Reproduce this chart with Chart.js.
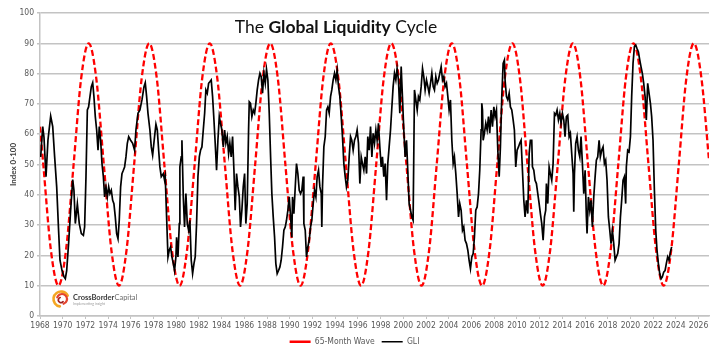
<!DOCTYPE html>
<html>
<head>
<meta charset="utf-8">
<script src="https://cdn.jsdelivr.net/npm/chart.js@4.4.0/dist/chart.umd.min.js"></script>
<style>
  html, body { margin: 0; padding: 0; background: #fff; }
</style>
</head>
<body>
<canvas id="gliChart" width="724" height="351"></canvas>
<script>
// x axis labels (every 2 years) and y axis ticks
const yearTicks = [1968, 1970, 1972, 1974, 1976, 1978, 1980, 1982, 1984, 1986, 1988, 1990, 1992, 1994, 1996,
    1998, 2000, 2002, 2004, 2006, 2008, 2010, 2012, 2014, 2016, 2018, 2020, 2022, 2024, 2026];
const indexTicks = [0, 10, 20, 30, 40, 50, 60, 70, 80, 90, 100];

const waveLabel = '65-Month Wave';
const gliLabel = 'GLI';

// 65-month wave: [year, index]
const waveSeries = [
    [1968.00, 62.5], [1968.29, 50], [1968.96, 21.7], [1969.63, 10], [1970.29, 21.7], [1970.96, 50], [1971.62, 78.3],
    [1972.29, 90], [1972.96, 78.3], [1973.62, 50], [1974.29, 21.7], [1974.96, 10], [1975.62, 21.7], [1976.29, 50],
    [1976.95, 78.3], [1977.62, 90], [1978.29, 78.3], [1978.95, 50], [1979.62, 21.7], [1980.29, 10], [1980.95, 21.7],
    [1981.62, 50], [1982.28, 78.3], [1982.95, 90], [1983.62, 78.3], [1984.28, 50], [1984.95, 21.7], [1985.62, 10],
    [1986.28, 21.7], [1986.95, 50], [1987.61, 78.3], [1988.28, 90], [1988.95, 78.3], [1989.61, 50], [1990.28, 21.7],
    [1990.95, 10], [1991.61, 21.7], [1992.28, 50], [1992.94, 78.3], [1993.61, 90], [1994.28, 78.3], [1994.94, 50],
    [1995.61, 21.7], [1996.28, 10], [1996.94, 21.7], [1997.61, 50], [1998.27, 78.3], [1998.94, 90], [1999.61, 78.3],
    [2000.27, 50], [2000.94, 21.7], [2001.61, 10], [2002.27, 21.7], [2002.94, 50], [2003.60, 78.3], [2004.27, 90],
    [2004.94, 78.3], [2005.60, 50], [2006.27, 21.7], [2006.94, 10], [2007.60, 21.7], [2008.27, 50], [2008.93, 78.3],
    [2009.60, 90], [2010.27, 78.3], [2010.93, 50], [2011.60, 21.7], [2012.27, 10], [2012.93, 21.7], [2013.60, 50],
    [2014.26, 78.3], [2014.93, 90], [2015.60, 78.3], [2016.26, 50], [2016.93, 21.7], [2017.60, 10], [2018.26, 21.7],
    [2018.93, 50], [2019.59, 78.3], [2020.26, 90], [2020.93, 78.3], [2021.59, 50], [2022.26, 21.7], [2022.93, 10],
    [2023.59, 21.7], [2024.26, 50], [2024.92, 78.3], [2025.59, 90], [2026.26, 78.3], [2026.92, 51.5]
];

// GLI index: [year, index]
const gliSeries = [
    [1968.06, 52.5], [1968.24, 62.5], [1968.35, 59], [1968.53, 46], [1968.70, 58], [1968.94, 66], [1969.12, 62.5],
    [1969.29, 52.5], [1969.47, 42.6], [1969.64, 28], [1969.76, 18.4], [1969.94, 15], [1970.11, 13], [1970.23, 12.3],
    [1970.35, 15], [1970.52, 24], [1970.70, 35], [1970.88, 45], [1970.99, 41.5], [1971.11, 30.5], [1971.29, 37],
    [1971.46, 30.5], [1971.64, 27.2], [1971.82, 26.6], [1971.93, 29.4], [1972.05, 46], [1972.17, 68], [1972.28, 69],
    [1972.40, 72.4], [1972.52, 75.7], [1972.64, 77], [1972.75, 72.4], [1972.87, 65.8], [1972.99, 61.4], [1973.11, 54.7],
    [1973.22, 62.5], [1973.34, 58], [1973.46, 50.3], [1973.58, 46], [1973.69, 39.3], [1973.81, 42.6], [1973.93, 39.3],
    [1974.05, 42.6], [1974.16, 40.4], [1974.28, 41.5], [1974.40, 38.2], [1974.51, 37.1], [1974.63, 32.7], [1974.75, 27.2],
    [1974.87, 25.5], [1974.98, 31.6], [1975.10, 42.6], [1975.22, 47], [1975.34, 48.1], [1975.45, 49.2], [1975.57, 52.5],
    [1975.69, 57], [1975.81, 59.2], [1975.98, 58], [1976.16, 57], [1976.33, 54.7], [1976.45, 61.4], [1976.63, 66.9],
    [1976.80, 68], [1976.98, 71.3], [1977.16, 75.7], [1977.27, 77], [1977.39, 72.4], [1977.51, 66.9], [1977.68, 61.4],
    [1977.80, 55.8], [1977.92, 53.1], [1978.09, 59.2], [1978.21, 63.3], [1978.33, 61.4], [1978.45, 54.7], [1978.56, 49.2],
    [1978.68, 46], [1978.86, 47], [1978.97, 44.8],
    [1979.03, 46], [1979.15, 32.7], [1979.27, 19.5], [1979.38, 21.7], [1979.50, 22.8], [1979.62, 19.5], [1979.74, 17.3],
    [1979.85, 15], [1979.97, 19.5], [1980.03, 26], [1980.15, 19.5], [1980.27, 30.5], [1980.32, 49.2], [1980.44, 52.5],
    [1980.50, 58], [1980.62, 39.3], [1980.73, 29.4], [1980.85, 40.4], [1980.97, 30.5], [1981.09, 28.3], [1981.20, 31.6],
    [1981.32, 18.4], [1981.44, 14], [1981.56, 17.3], [1981.67, 19.5], [1981.79, 30.5], [1981.91, 46], [1982.03, 52.5],
    [1982.14, 54.7], [1982.26, 55.8], [1982.38, 61.4], [1982.50, 66.9], [1982.61, 74.6], [1982.73, 73.5], [1982.85, 76.8],
    [1982.96, 77.3], [1983.08, 77.9], [1983.20, 72.4], [1983.32, 64.7], [1983.43, 57], [1983.55, 48.1], [1983.67, 58],
    [1983.79, 65.8], [1983.90, 63.6], [1984.02, 61.4], [1984.14, 55.8], [1984.26, 61.4], [1984.37, 57], [1984.49, 59.2],
    [1984.61, 53.6], [1984.72, 57], [1984.84, 52.5], [1984.96, 59.2], [1985.08, 48.1], [1985.19, 34.9], [1985.31, 47],
    [1985.43, 42.6], [1985.55, 39.3], [1985.66, 29.4], [1985.78, 34.9], [1985.90, 42.6], [1986.02, 47], [1986.13, 30.5],
    [1986.25, 37.1], [1986.37, 61.4], [1986.43, 70.7], [1986.54, 70.2], [1986.66, 65.8], [1986.78, 68], [1986.90, 66.9],
    [1987.01, 70.2], [1987.13, 74.6], [1987.25, 77.9], [1987.37, 80.1], [1987.48, 79], [1987.60, 73.5], [1987.72, 80.1],
    [1987.84, 76.8], [1987.95, 81.4], [1988.07, 77.9], [1988.19, 66.9], [1988.31, 52.5], [1988.42, 40.4], [1988.54, 32.7],
    [1988.66, 26], [1988.77, 17.3], [1988.89, 14], [1989.01, 15], [1989.13, 16.2], [1989.24, 18.4], [1989.36, 22.8],
    [1989.48, 28.3], [1989.60, 29.4], [1989.71, 31.6], [1989.83, 34.9], [1989.95, 39.3], [1990.07, 32.7], [1990.18, 26],
    [1990.24, 39.3], [1990.36, 33.8], [1990.48, 42.6], [1990.59, 50.3], [1990.71, 47], [1990.83, 41.5], [1990.95, 40.4],
    [1991.06, 41.5], [1991.18, 46], [1991.24, 30.5], [1991.36, 28.3], [1991.47, 19.5], [1991.59, 22.8], [1991.71, 25],
    [1991.83, 29.4], [1991.94, 31.6], [1992.06, 37.1], [1992.18, 41.5], [1992.30, 39.3], [1992.41, 46], [1992.53, 48.1],
    [1992.65, 42.6], [1992.77, 40.4], [1992.82, 29.4], [1992.88, 42.6], [1993.00, 55.8], [1993.12, 59.2], [1993.24, 68],
    [1993.35, 69], [1993.47, 66.9], [1993.59, 72.4], [1993.70, 74.6], [1993.82, 77.9], [1993.94, 80.1], [1994.06, 77.9],
    [1994.17, 81.2], [1994.29, 75.7], [1994.41, 72.4], [1994.53, 65.8], [1994.64, 59.2], [1994.76, 50.3], [1994.88, 46],
    [1994.99, 42.6], [1995.11, 44.8], [1995.23, 52.5], [1995.35, 59.2], [1995.46, 58], [1995.58, 54.7], [1995.70, 58],
    [1995.82, 59.2], [1995.93, 61.4], [1996.05, 57], [1996.17, 43.7], [1996.29, 52.5], [1996.40, 50.3], [1996.52, 48.1],
    [1996.64, 52.5], [1996.76, 47], [1996.87, 59.2], [1996.99, 54.7], [1997.11, 62.5], [1997.23, 52.5], [1997.34, 60.3],
    [1997.46, 57], [1997.58, 61.4], [1997.69, 58], [1997.81, 63.6], [1997.93, 55.8], [1998.05, 49.2], [1998.16, 52.5],
    [1998.28, 46], [1998.40, 50.3], [1998.52, 38.2], [1998.63, 50.3], [1998.75, 55.8], [1998.87, 61.4], [1998.99, 69],
    [1999.10, 75.7], [1999.22, 80.1], [1999.34, 77.9], [1999.45, 81.7], [1999.57, 77.9], [1999.69, 66.9], [1999.81, 82.3],
    [1999.92, 72.4], [2000.04, 61.4], [2000.16, 52.5], [2000.28, 58], [2000.39, 48.1], [2000.51, 37.1], [2000.63, 34.9],
    [2000.75, 32.7], [2000.86, 31.6], [2000.98, 74.6],
    [2001.22, 68], [2001.33, 72.4], [2001.45, 71.3], [2001.57, 75.7], [2001.69, 81.7], [2001.80, 79], [2001.92, 74.6],
    [2002.04, 77.9], [2002.16, 75.7], [2002.27, 73.5], [2002.39, 76.8], [2002.51, 80.1], [2002.63, 75.7], [2002.74, 74.6],
    [2002.86, 79], [2002.98, 76.8], [2003.09, 77.9], [2003.21, 80.1], [2003.33, 82.3], [2003.45, 77.9], [2003.56, 79],
    [2003.68, 75.7], [2003.80, 76.8], [2003.92, 72.4], [2004.03, 68], [2004.15, 71.3], [2004.27, 58], [2004.39, 50.3],
    [2004.50, 52.5], [2004.62, 47], [2004.74, 40.4], [2004.86, 32.7], [2004.97, 37.1], [2005.09, 34.9], [2005.21, 28.3],
    [2005.32, 29.4], [2005.44, 25], [2005.56, 23.9], [2005.68, 21.7], [2005.79, 18.4], [2005.91, 15.6], [2006.03, 19.5],
    [2006.15, 20.6], [2006.26, 26], [2006.38, 34.9], [2006.50, 36], [2006.62, 40.4], [2006.73, 48.1], [2006.85, 61.4],
    [2006.91, 70.2], [2006.97, 68], [2007.03, 58], [2007.14, 60.3], [2007.26, 63.6], [2007.38, 61.4], [2007.50, 65.8],
    [2007.61, 60.3], [2007.73, 68], [2007.85, 62.5], [2007.97, 69], [2008.08, 65.8], [2008.20, 68], [2008.32, 54.7],
    [2008.44, 46], [2008.55, 55.8], [2008.67, 72.4], [2008.79, 83.4], [2008.90, 84.5], [2008.96, 77.9], [2009.08, 72.4],
    [2009.20, 71.3], [2009.32, 73.5], [2009.43, 69], [2009.55, 68], [2009.67, 64.7], [2009.78, 61.4], [2009.90, 49.2],
    [2010.02, 54.7], [2010.14, 55.8], [2010.25, 57], [2010.37, 58], [2010.49, 48.1], [2010.61, 38.2], [2010.72, 32.7],
    [2010.84, 38.2], [2010.96, 33.8], [2011.08, 53.6], [2011.19, 58], [2011.31, 58], [2011.37, 49.2], [2011.49, 48.1],
    [2011.60, 44.8], [2011.72, 43.7], [2011.84, 40.4], [2011.96, 37.1], [2012.07, 33.8], [2012.19, 30.5], [2012.31, 25],
    [2012.43, 32.7], [2012.54, 34.9], [2012.60, 43.7], [2012.72, 37.1], [2012.84, 49.2], [2012.95, 47], [2013.07, 44.8],
    [2013.19, 50.3], [2013.31, 66.9], [2013.42, 66.3], [2013.54, 68], [2013.66, 64.7], [2013.78, 66.9], [2013.89, 63.6],
    [2014.01, 66.9], [2014.13, 64.7], [2014.24, 59.2], [2014.36, 65.8], [2014.48, 66.3], [2014.60, 59.2], [2014.71, 60.3],
    [2014.83, 53.6], [2014.95, 47], [2015.01, 34.4], [2015.07, 47], [2015.18, 57], [2015.30, 59.2], [2015.42, 54.7],
    [2015.54, 52.5], [2015.65, 59.2], [2015.77, 50.3], [2015.89, 40.4], [2016.01, 48.1], [2016.12, 32.7], [2016.18, 27.2],
    [2016.30, 39.3], [2016.42, 34.9], [2016.53, 38.2], [2016.65, 29.4], [2016.77, 39.3], [2016.89, 46], [2017.00, 51.4],
    [2017.12, 52.5], [2017.24, 58], [2017.35, 52.5], [2017.47, 54.7], [2017.59, 55.8], [2017.71, 50.3], [2017.82, 51.4],
    [2017.94, 44.8], [2018.06, 32.7], [2018.18, 28.3], [2018.29, 23.9], [2018.41, 28.3], [2018.53, 23.9], [2018.65, 18.4],
    [2018.76, 19.5], [2018.88, 20.6], [2019.00, 23.9], [2019.12, 32.7], [2019.23, 38.2], [2019.35, 44.8], [2019.47, 46],
    [2019.58, 37.1], [2019.64, 49.2], [2019.76, 54.7], [2019.88, 54.2], [2020.00, 59.2], [2020.11, 72.4], [2020.23, 83.4],
    [2020.35, 88.9], [2020.47, 89.4], [2020.58, 88.3], [2020.70, 87.2], [2020.82, 84.5], [2020.93, 82.3], [2021.05, 80.1],
    [2021.17, 76.8], [2021.29, 72.4], [2021.40, 64.7], [2021.52, 76.8], [2021.64, 73.5], [2021.76, 70.2], [2021.87, 65.8],
    [2021.99, 58], [2022.11, 41.5], [2022.23, 28.3], [2022.34, 21.7], [2022.46, 17.3], [2022.58, 14], [2022.70, 12.3],
    [2022.81, 12.9], [2022.93, 14.5], [2023.05, 15], [2023.16, 17.3], [2023.28, 19.5], [2023.40, 18.4], [2023.52, 21.1],
    [2023.63, 22.8]
];

const smallFont = { family: "'Liberation Sans Narrow', 'DejaVu Sans Condensed', Lato, sans-serif", size: 8.5 };
const gridGrey = '#c3c3c3';
const labelGrey = '#595959';

// title with a bold middle part, drawn inside the plot
const titlePlugin = {
    id: 'mixedTitle',
    afterDraw(chart) {
        const ctx = chart.ctx;
        const parts = [['The ', '400'], ['Global Liquidity', '700'], [' Cycle', '400']];
        const size = 17.5;
        ctx.save();
        let total = 0;
        const widths = parts.map(p => {
            ctx.font = p[1] + ' ' + size + 'px Lato, sans-serif';
            const w = ctx.measureText(p[0]).width;
            total += w;
            return w;
        });
        let x = 336 - total / 2;
        ctx.fillStyle = '#111';
        ctx.textBaseline = 'alphabetic';
        parts.forEach((p, i) => {
            ctx.font = p[1] + ' ' + size + 'px Lato, sans-serif';
            ctx.fillText(p[0], x, 33);
            x += widths[i];
        });
        ctx.restore();
    }
};

// CrossBorder Capital logo in the lower left corner
const logoPlugin = {
    id: 'logo',
    afterDraw(chart) {
        const ctx = chart.ctx;
        const cx = 61, cy = 299;
        ctx.save();
        ctx.lineCap = 'round';
        ctx.lineWidth = 2.6;
        ctx.strokeStyle = '#f4a623';
        ctx.beginPath();
        ctx.arc(cx, cy, 7.5, Math.PI * 0.55, Math.PI * 1.85);
        ctx.stroke();
        ctx.strokeStyle = '#e5452f';
        ctx.lineWidth = 2.2;
        ctx.beginPath();
        ctx.arc(cx + 1, cy, 5, Math.PI * 1.1, Math.PI * 2.4);
        ctx.stroke();
        ctx.strokeStyle = '#a0201f';
        ctx.lineWidth = 1.6;
        ctx.beginPath();
        ctx.arc(cx, cy + 1, 2.6, Math.PI * 0.2, Math.PI * 1.4);
        ctx.stroke();

        ctx.textBaseline = 'alphabetic';
        ctx.font = "700 7.5px 'Liberation Sans Narrow', Lato, sans-serif";
        ctx.fillStyle = '#3b3b3b';
        ctx.fillText('CrossBorder', 73, 300);
        const w = ctx.measureText('CrossBorder').width;
        ctx.font = "400 7.5px 'Liberation Sans Narrow', Lato, sans-serif";
        ctx.fillStyle = '#6b6b6b';
        ctx.fillText('Capital', 73 + w, 300);
        ctx.font = "400 3.5px Lato, sans-serif";
        ctx.fillStyle = '#9a9a9a';
        ctx.fillText('Implementing insight', 73, 305);
        ctx.restore();
    }
};

new Chart(document.getElementById('gliChart'), {
    type: 'line',
    data: {
        datasets: [{
            label: waveLabel,
            data: waveSeries.map(p => ({ x: p[0], y: p[1] })),
            borderColor: '#ff0000',
            backgroundColor: '#ff0000',
            borderWidth: 2.3,
            borderDash: [6, 3],
            pointRadius: 0,
            cubicInterpolationMode: 'monotone',
            fill: false,
            order: 1
        }, {
            label: gliLabel,
            data: gliSeries.map(p => ({ x: p[0], y: p[1] })),
            borderColor: '#000000',
            backgroundColor: '#000000',
            borderWidth: 1.7,
            pointRadius: 0,
            tension: 0,
            fill: false,
            order: 0
        }]
    },
    options: {
        responsive: false,
        animation: false,
        devicePixelRatio: 1,
        layout: { padding: { top: 13, right: 15, bottom: -5, left: 0 } },
        plugins: {
            legend: {
                position: 'bottom',
                labels: {
                    usePointStyle: true,
                    pointStyle: 'line',
                    pointStyleWidth: 21,
                    padding: 7,
                    color: labelGrey,
                    font: smallFont,
                    sort: (a, b) => a.datasetIndex - b.datasetIndex
                }
            },
            tooltip: { enabled: false }
        },
        scales: {
            x: {
                type: 'linear',
                min: 1968,
                max: 2026.92,
                afterBuildTicks: s => { s.ticks = yearTicks.map(v => ({ value: v })); },
                afterFit: s => { s.height = 14.5; },
                ticks: {
                    autoSkip: false,
                    maxRotation: 0,
                    padding: 2,
                    color: labelGrey,
                    font: smallFont,
                    callback: v => String(v)
                },
                grid: { drawOnChartArea: false, drawTicks: true, tickLength: 3, color: gridGrey, lineWidth: 1 },
                border: { color: gridGrey, width: 1.5 }
            },
            y: {
                min: 0,
                max: 100,
                afterBuildTicks: s => { s.ticks = indexTicks.map(v => ({ value: v })); },
                afterFit: s => { s.width = 40; },
                ticks: { padding: 3, color: labelGrey, font: smallFont },
                grid: { color: gridGrey, lineWidth: 1.5, tickLength: 3, drawTicks: true },
                border: { color: gridGrey, width: 1.5 },
                title: {
                    display: true,
                    text: 'Index 0-100',
                    color: '#404040',
                    font: { family: "'Liberation Sans Narrow', Lato, sans-serif", size: 8, weight: 'bold' },
                    padding: { top: 9, bottom: 0 }
                }
            }
        }
    },
    plugins: [titlePlugin, logoPlugin]
});
</script>
</body>
</html>
